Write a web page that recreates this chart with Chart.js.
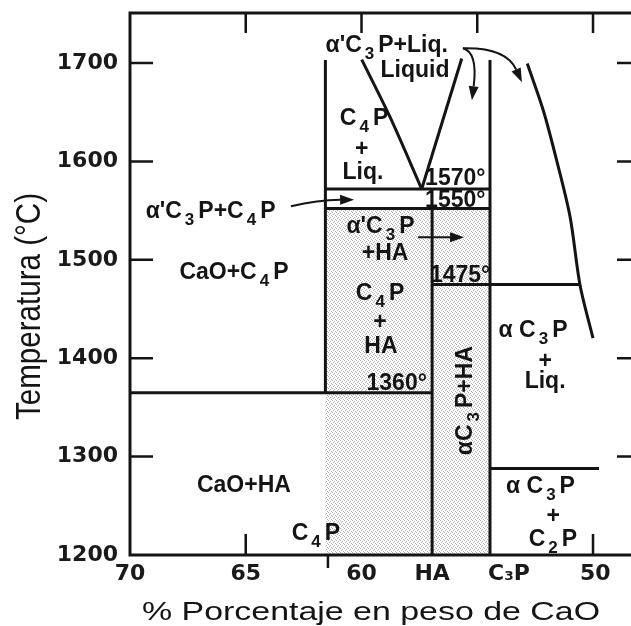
<!DOCTYPE html>
<html><head><meta charset="utf-8">
<script src="https://cdn.jsdelivr.net/npm/chart.js@4.4.1/dist/chart.umd.min.js"></script>
<style>html,body{margin:0;padding:0;overflow:hidden;background:#fff}canvas{display:block}</style>
</head><body>
<canvas id="c" width="645" height="626" style="width:645px;height:626px"></canvas>
<script>
// ---- axes ----
const xTitle = '% Porcentaje en peso de CaO';
const yTitle = 'Temperatura (°C)';
const xTickValues = [70, 65, 60, 56.95, 53.63, 49.9];
const xTickLabels = ['70', '65', '60', 'HA', 'C₃P', '50'];
const yTickValues = [1200, 1300, 1400, 1500, 1600, 1700];
const xRange = [48.1, 70];
const yRange = [1200, 1750.8];
const topTickValues = [65, 60, 55, 50];
const bottomUpTickValues = [65, 50];
const bottomDownTickValues = [61.45];
const sideTickValues = [1300, 1400, 1500, 1600, 1700];

// ---- phase boundaries (% CaO, °C) ----
const lineC4P = [[61.56, 1364.8], [61.56, 1703]];
const lineHA = [[56.95, 1200], [56.95, 1552]];
const lineC3P = [[54.45, 1200], [54.45, 1703]];
const iso1570 = [[61.56, 1572], [54.45, 1572]];
const iso1550 = [[61.56, 1552], [54.45, 1552]];
const iso1475 = [[56.95, 1475], [50.56, 1475]];
const iso1360 = [[70, 1364.8], [56.95, 1364.8]];
const iso1288 = [[54.45, 1288], [49.74, 1288]];
const liquidusLeft = [[59.99, 1703.4], [58.77, 1645.2], [57.40, 1572]];
const liquidusRight = [[55.67, 1704.5], [57.40, 1572]];
const liquidusC3P = [[52.84, 1699.4], [52.15, 1652], [51.57, 1601], [50.99, 1543.6], [50.56, 1474.2], [50.0, 1420.4]];
const shadedZone = [[61.56, 1552], [54.45, 1552]];

// ---- labels: text, %CaO, °C (baseline) ----
const regionLabels = [
  ["α'C_3P+Liq.", 58.91, 1711.2],
  ["Liquid", 57.69, 1685.5],
  ["C_4P", 59.89, 1636.7],
  ["+", 59.99, 1605.2],
  ["Liq.", 59.94, 1582.6],
  ["1570°", 55.95, 1575.8],
  ["1550°", 55.95, 1553.4],
  ["α'C_3P+C_4P", 66.52, 1542.3],
  ["α'C_3P", 59.18, 1527],
  ["+HA", 58.98, 1499.6],
  ["1475°", 55.74, 1477.3],
  ["CaO+C_4P", 65.51, 1480.3],
  ["C_4P", 59.2, 1459],
  ["+", 59.2, 1429.2],
  ["HA", 59.16, 1405.2],
  ["1360°", 58.48, 1367.6],
  ["α C_3P", 52.59, 1421.7],
  ["+", 52.07, 1390.3],
  ["Liq.", 52.07, 1369.6],
  ["α C_3P", 52.27, 1263.3],
  ["+", 51.72, 1232.9],
  ["C_2P", 51.73, 1209.1],
  ["CaO+HA", 65.08, 1264.3],
  ["C_4P", 61.97, 1215.2]
];
const verticalLabels = [["αC_3P+HA", 55.24, 1356.9]];
// arrows: start, control, tip
const arrows = [
  [[55.62, 1714.9], [54.97, 1710.9], [55.23, 1662.1]],
  [[55.62, 1714.9], [53.76, 1716], [53.07, 1680.4]],
  [[63.05, 1554.5], [61.88, 1560.6], [60.32, 1561.1]],
  [[57.56, 1523], [56.5, 1523], [55.57, 1523]]
];

const boundaryLines = [lineC4P, lineHA, lineC3P, iso1570, iso1550, iso1475, iso1360, iso1288, liquidusLeft, liquidusRight, liquidusC3P];

const canvas = document.getElementById('c');
const mainCtx = canvas.getContext('2d');
function makePattern() {
  const t = document.createElement('canvas');
  t.width = 4; t.height = 4;
  const g = t.getContext('2d');
  g.fillStyle = '#ffffff'; g.fillRect(0, 0, 4, 4);
  g.fillStyle = '#b0b0b0';
  [[0, 0], [2, 1], [1, 2], [3, 3]].forEach(([a, b]) => g.fillRect(a, b, 1, 1));
  return mainCtx.createPattern(t, 'repeat');
}
const toPts = a => a.map(([x, y]) => ({x, y}));

const INK = '#141414';
const mainFont = 'bold 23px "Liberation Sans", Arial, sans-serif';
const subFont = 'bold 17px "Liberation Sans", Arial, sans-serif';
function parts(s) {
  const out = []; let buf = '';
  for (let i = 0; i < s.length; i++) {
    if (s[i] === '_') { if (buf) out.push({t: buf, sub: false}); buf = ''; out.push({t: s[i + 1], sub: true}); i++; }
    else buf += s[i];
  }
  if (buf) out.push({t: buf, sub: false});
  return out;
}
function rich(ctx, s, cx, by) {
  const ps = parts(s);
  let w = 0;
  ps.forEach(p => { ctx.font = p.sub ? subFont : mainFont; p.w = ctx.measureText(p.t).width; w += p.w + (p.sub ? 7 : 0); });
  let xx = cx - w / 2;
  ps.forEach(p => {
    ctx.font = p.sub ? subFont : mainFont;
    if (p.sub) { xx += 3; ctx.fillText(p.t, xx, by + 7); xx += p.w + 4; }
    else { ctx.fillText(p.t, xx, by); xx += p.w; }
  });
}

const phasePlugin = {
  id: 'phase',
  afterDraw(chart) {
    const {ctx, chartArea: a, scales: {x, y}} = chart;
    const X = v => x.getPixelForValue(v), Y = v => y.getPixelForValue(v);
    ctx.save();
    ctx.strokeStyle = INK; ctx.fillStyle = INK;
    ctx.lineWidth = 3;
    ctx.strokeRect(a.left, a.top, a.right - a.left, a.bottom - a.top);
    ctx.lineWidth = 2.5;
    ctx.beginPath();
    sideTickValues.forEach(v => { ctx.moveTo(a.left, Y(v)); ctx.lineTo(a.left + 23, Y(v)); });
    sideTickValues.forEach(v => { ctx.moveTo(a.right, Y(v)); ctx.lineTo(a.right - 20, Y(v)); });
    topTickValues.forEach(v => { ctx.moveTo(X(v), a.top); ctx.lineTo(X(v), a.top + 20); });
    bottomUpTickValues.forEach(v => { ctx.moveTo(X(v), a.bottom); ctx.lineTo(X(v), a.bottom - 21); });
    bottomDownTickValues.forEach(v => { ctx.moveTo(X(v), a.bottom); ctx.lineTo(X(v), a.bottom + 13); });
    ctx.stroke();
    // arrows
    arrows.forEach(([p0, c, p1]) => {
      const x0 = X(p0[0]), y0 = Y(p0[1]), cx = X(c[0]), cy = Y(c[1]), x1 = X(p1[0]), y1 = Y(p1[1]);
      const ang = Math.atan2(y1 - cy, x1 - cx);
      const hl = 14, hw = 5;
      const bx = x1 - hl * Math.cos(ang), by = y1 - hl * Math.sin(ang);
      ctx.lineWidth = 2;
      ctx.beginPath(); ctx.moveTo(x0, y0); ctx.quadraticCurveTo(cx, cy, bx, by); ctx.stroke();
      ctx.beginPath();
      ctx.moveTo(x1, y1);
      ctx.lineTo(bx - hw * Math.sin(ang), by + hw * Math.cos(ang));
      ctx.lineTo(bx + hw * Math.sin(ang), by - hw * Math.cos(ang));
      ctx.closePath(); ctx.fill();
    });
    // labels
    ctx.textAlign = 'left'; ctx.textBaseline = 'alphabetic';
    regionLabels.forEach(([t, vx, vy]) => rich(ctx, t, X(vx), Y(vy)));
    verticalLabels.forEach(([t, vx, vy]) => {
      ctx.save(); ctx.translate(X(vx), Y(vy)); ctx.rotate(-Math.PI / 2);
      rich(ctx, t, 0, 0); ctx.restore();
    });
    // axis titles
    ctx.textAlign = 'center';
    ctx.font = '25px "Liberation Sans", Arial, sans-serif';
    const tw = ctx.measureText(xTitle).width;
    ctx.save(); ctx.translate(371, 620); ctx.scale(458 / tw, 1); ctx.fillText(xTitle, 0, 0); ctx.restore();
    ctx.font = '30px "Liberation Sans", Arial, sans-serif';
    const tw2 = ctx.measureText(yTitle).width;
    ctx.save(); ctx.translate(40, 306.5); ctx.rotate(-Math.PI / 2); ctx.scale(227 / tw2, 1.15); ctx.fillText(yTitle, 0, 0); ctx.restore();
    ctx.restore();
  }
};

const tickFont = {family: '"DejaVu Sans", sans-serif', weight: 'bold', size: 22};
const datasets = boundaryLines.map(l => ({
  data: toPts(l), showLine: true, borderColor: INK, borderWidth: 3,
  pointRadius: 0, tension: l.length > 2 ? 0.3 : 0, fill: false
}));
datasets.push({
  data: toPts(shadedZone), showLine: true, borderWidth: 0, borderColor: 'rgba(0,0,0,0)',
  backgroundColor: makePattern(), fill: {value: 1200}, pointRadius: 0, order: 10
});

new Chart(canvas, {
  type: 'scatter',
  data: {datasets},
  options: {
    responsive: false, animation: false, devicePixelRatio: 1, events: [],
    layout: {padding: {top: 13, right: 8, left: 0, bottom: 0}},
    plugins: {legend: {display: false}, tooltip: {enabled: false}, filler: {drawTime: 'beforeDatasetsDraw'}},
    scales: {
      x: {
        type: 'linear', reverse: true, min: xRange[0], max: xRange[1],
        afterBuildTicks: s => { s.ticks = xTickValues.map(v => ({value: v})); },
        afterFit: s => { s.height = 71; s.paddingLeft = 0; s.paddingRight = 0; },
        ticks: {autoSkip: false, maxRotation: 0, padding: 6, font: tickFont, color: '#1a1a1a',
          callback: (v, i) => xTickLabels[i]},
        grid: {display: false, drawTicks: false}, border: {display: false}
      },
      y: {
        type: 'linear', min: yRange[0], max: yRange[1],
        afterBuildTicks: s => { s.ticks = yTickValues.map(v => ({value: v})); },
        afterFit: s => { s.width = 130; s.paddingTop = 0; s.paddingBottom = 0; },
        ticks: {padding: 12, font: tickFont, color: '#1a1a1a', callback: v => String(v)},
        grid: {display: false, drawTicks: false}, border: {display: false}
      }
    }
  },
  plugins: [phasePlugin]
});
</script>
</body></html>
